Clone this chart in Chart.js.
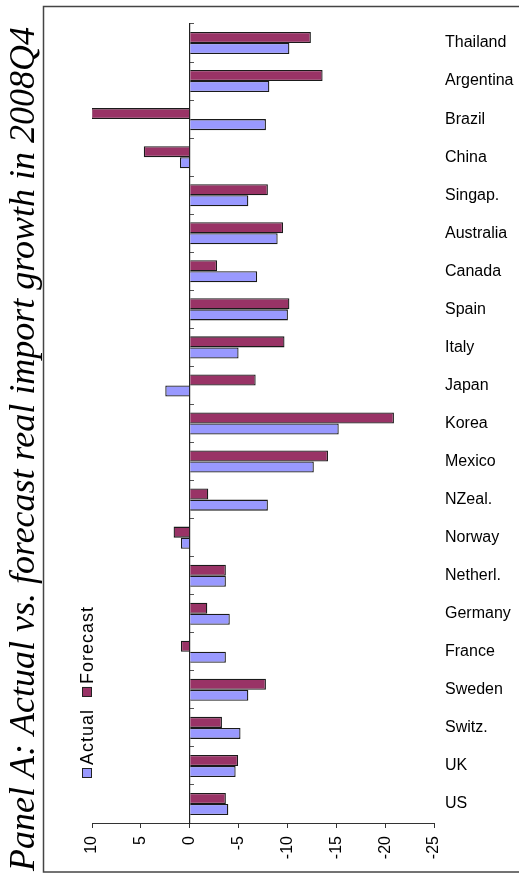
<!DOCTYPE html>
<html>
<head>
<meta charset="utf-8">
<script src="https://cdn.jsdelivr.net/npm/chart.js@4/dist/chart.umd.min.js"></script>
<style>
  html, body { margin: 0; padding: 0; background: #fff; }
  #wrap { width: 519px; height: 874px; }
</style>
</head>
<body>
<div id="wrap"><canvas id="chart" width="519" height="874"></canvas></div>
<script>
// countries, top to bottom as in the picture
const countries = ['Thailand', 'Argentina', 'Brazil', 'China', 'Singap.', 'Australia', 'Canada',
  'Spain', 'Italy', 'Japan', 'Korea', 'Mexico', 'NZeal.', 'Norway', 'Netherl.', 'Germany',
  'France', 'Sweden', 'Switz.', 'UK', 'US'];

// real import growth, 2008Q4 (%)
const forecastValues = [-12.4, -13.6, 10.1, 4.7, -8.0, -9.55, -2.8, -10.2, -9.7, -6.75, -20.9,
  -14.15, -1.9, 1.65, -3.7, -1.8, 0.9, -7.8, -3.3, -4.95, -3.7];
const actualValues = [-10.2, -8.15, -7.8, 1.0, -6.0, -9.0, -6.9, -10.05, -5.0, 2.5, -15.25,
  -12.7, -8.0, 0.9, -3.7, -4.1, -3.7, -6.0, -5.2, -4.7, -3.95];

const valueTicks = [10, 5, 0, -5, -10, -15, -20, -25];
const titleText = 'Panel A: Actual vs. forecast real import growth in 2008Q4';

Chart.defaults.font.family = '"Liberation Sans", Arial, sans-serif';
Chart.defaults.font.size = 16;
Chart.defaults.color = '#000';

// outer frame (right side runs off the picture)
const framePlugin = {
  id: 'frame',
  afterDraw(chart) {
    const ctx = chart.ctx;
    ctx.save();
    ctx.strokeStyle = '#444';
    ctx.lineWidth = 1.5;
    ctx.strokeRect(43.5, 6.5, 520, 865.5);
    ctx.restore();
  }
};

// legend written sideways, like the rest of the rotated figure
const sideLegend = {
  id: 'sideLegend',
  afterDraw(chart) {
    const ctx = chart.ctx;
    const items = chart.data.datasets.slice().reverse();
    ctx.save();
    ctx.translate(87, 779);
    ctx.rotate(-Math.PI / 2);
    ctx.font = '18px "Liberation Sans", Arial, sans-serif';
    if ('letterSpacing' in ctx) ctx.letterSpacing = '1px';
    ctx.textBaseline = 'middle';
    ctx.textAlign = 'left';
    let u = 1;
    items.forEach(ds => {
      ctx.fillStyle = ds.backgroundColor;
      ctx.fillRect(u, -5, 10, 10);
      ctx.strokeStyle = '#222';
      ctx.lineWidth = 1;
      ctx.strokeRect(u + 0.5, -4.5, 9, 9);
      ctx.fillStyle = '#000';
      ctx.fillText(ds.label, u + 13, 1);
      u += 13 + ctx.measureText(ds.label).width + 12;
    });
    ctx.restore();
  }
};

new Chart(document.getElementById('chart'), {
  type: 'bar',
  data: {
    labels: countries,
    datasets: [
      {
        label: 'Forecast',
        data: forecastValues,
        backgroundColor: '#993366',
        borderColor: '#1a1a1a',
        borderWidth: 1.3
      },
      {
        label: 'Actual',
        data: actualValues,
        backgroundColor: '#9999FF',
        borderColor: '#1a1a1a',
        borderWidth: 1.3
      }
    ]
  },
  options: {
    indexAxis: 'y',
    responsive: false,
    animation: false,
    layout: { padding: { top: 24, left: 0, right: 0, bottom: 0 } },
    datasets: {
      bar: { categoryPercentage: 0.58, barPercentage: 1 }
    },
    scales: {
      x: {
        type: 'linear',
        min: -25,
        max: 10,
        reverse: true,
        afterBuildTicks: s => { s.ticks = valueTicks.map(v => ({ value: v })); },
        afterFit: s => { s.height = 51; },
        ticks: { minRotation: 90, maxRotation: 90, padding: 8, autoSkip: false },
        grid: { drawOnChartArea: false, tickLength: 5, color: '#333' },
        border: { display: true, color: '#333', width: 1 }
      },
      y: {
        type: 'category',
        position: { x: 0 },
        offset: true,
        ticks: { display: false },
        grid: { offset: true, drawOnChartArea: false, tickLength: -5, color: '#555' },
        border: { display: true, color: '#222', width: 1.2 }
      },
      y2: {
        type: 'category',
        position: 'right',
        offset: true,
        afterFit: s => { s.width = 85; },
        ticks: { padding: 11, autoSkip: false },
        grid: { display: false, drawTicks: false },
        border: { display: false }
      }
    },
    plugins: {
      legend: { display: false },
      tooltip: { enabled: false },
      title: {
        display: true,
        text: titleText,
        position: 'left',
        color: '#000',
        font: { family: '"Liberation Serif", "Times New Roman", serif', style: 'italic', weight: 'normal', size: 36, lineHeight: 1 },
        padding: { top: 7, bottom: 49 }
      }
    }
  },
  plugins: [framePlugin, sideLegend]
});
</script>
</body>
</html>
